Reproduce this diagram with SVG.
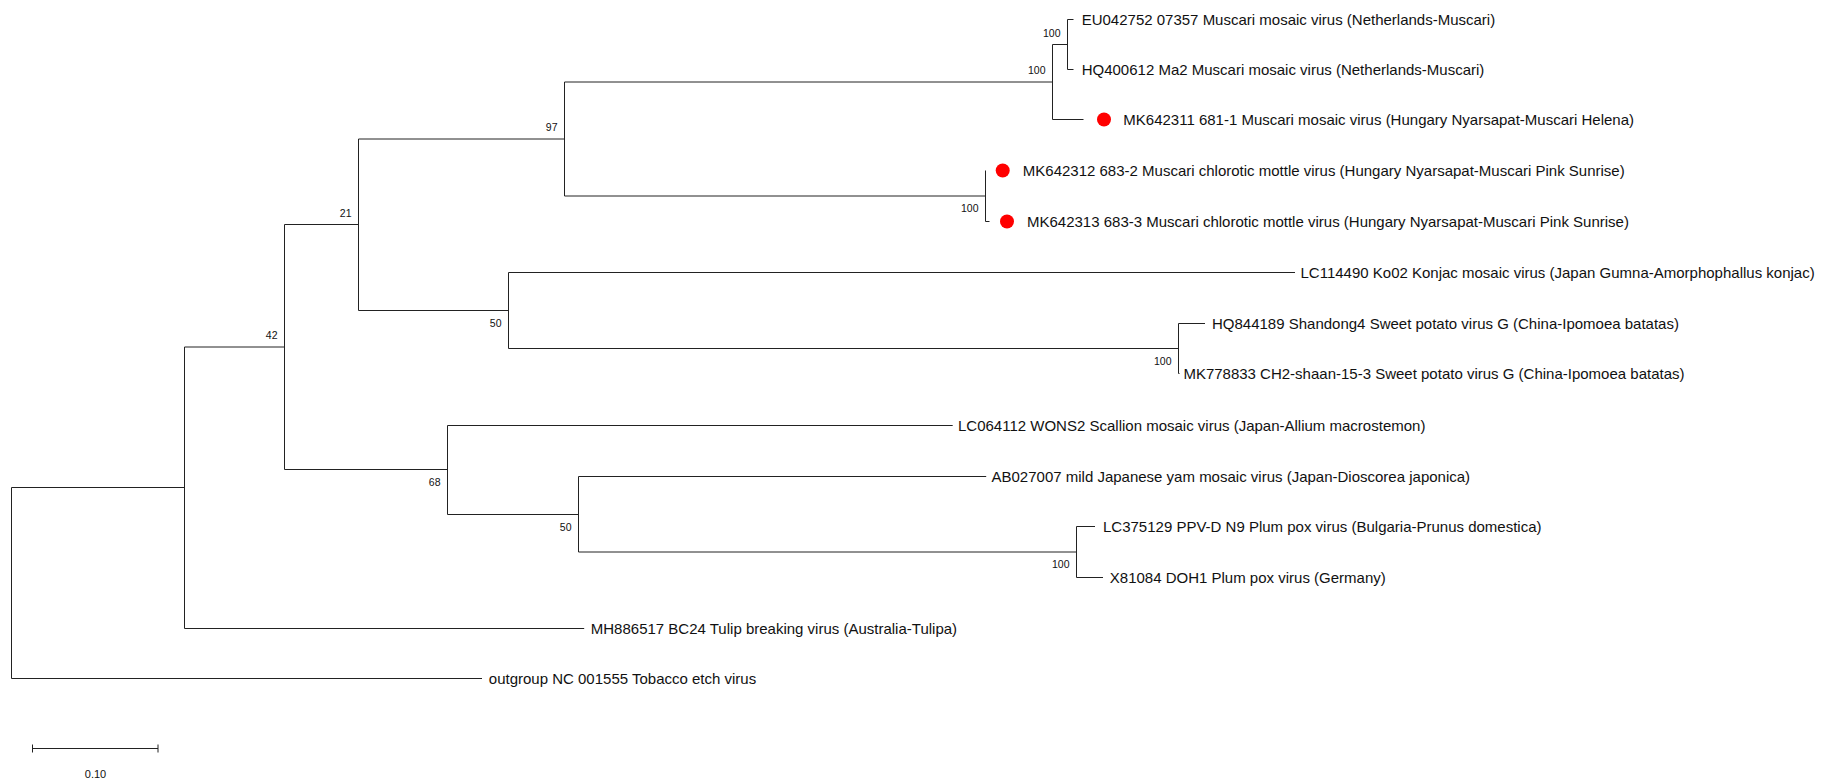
<svg xmlns="http://www.w3.org/2000/svg" width="1822" height="780" viewBox="0 0 1822 780">
<style>
.br{fill:none;stroke:#222;stroke-width:1}
.lf{font-family:"Liberation Sans",Arial,sans-serif;font-size:15px;fill:#111}
.bs{font-family:"Liberation Sans",Arial,sans-serif;font-size:10.5px;fill:#111;text-anchor:end}
.dot{fill:#ff0000}
</style>
<rect width="1822" height="780" fill="#ffffff"/>
<g id="connectors" class="br">
<!-- root -->
<path d="M11.5 487.5V678.5H482M11.5 487.5H184.5"/>
<!-- T node -->
<path d="M184.5 347V628.5H584.2M184.5 347H284.5"/>
<!-- 42 -->
<path d="M284.5 224.5V469.5H447.5M284.5 224.5H358.5"/>
<!-- 21 -->
<path d="M358.5 139V310.5H508.5M358.5 139H564.5"/>
<!-- 97 -->
<path d="M564.5 82V196H985.5M564.5 82H1052.5"/>
<!-- B -->
<path d="M1052.5 44.5V119.5H1083.5M1052.5 44.5H1067.5"/>
<!-- A -->
<path d="M1067.5 19.5V69.5H1073.5M1067.5 19.5H1073.5"/>
<!-- C pink -->
<path d="M985.5 170.5V221.5H989.5"/>
<!-- 50 upper -->
<path d="M508.5 272.5V348.5H1178.5M508.5 272.5H1295"/>
<!-- SP -->
<path d="M1178.5 323.5V373.5H1179.5M1178.5 323.5H1205"/>
<!-- 68 -->
<path d="M447.5 425.5V514.5H578.5M447.5 425.5H952.7"/>
<!-- 50 lower -->
<path d="M578.5 476.5V552H1076.5M578.5 476.5H986.2"/>
<!-- plum -->
<path d="M1076.5 526.5V577.5H1103M1076.5 526.5H1095"/>
</g>
<g id="bootstrap">
<text class="bs" x="1060.5" y="36.5">100</text>
<text class="bs" x="1045.5" y="74">100</text>
<text class="bs" x="557.5" y="131">97</text>
<text class="bs" x="351.5" y="216.5">21</text>
<text class="bs" x="277.5" y="339">42</text>
<text class="bs" x="978.5" y="212">100</text>
<text class="bs" x="501.5" y="326.5">50</text>
<text class="bs" x="1171.5" y="364.5">100</text>
<text class="bs" x="440.5" y="485.5">68</text>
<text class="bs" x="571.5" y="530.5">50</text>
<text class="bs" x="1069.5" y="568">100</text>
</g>
<g id="leaf-EU042752"><text class="lf" x="1081.7" y="24.5">EU042752 07357 Muscari mosaic virus (Netherlands-Muscari)</text></g>
<g id="leaf-HQ400612"><text class="lf" x="1081.7" y="74.5">HQ400612 Ma2 Muscari mosaic virus (Netherlands-Muscari)</text></g>
<g id="leaf-MK642311"><circle class="dot" cx="1104" cy="119.5" r="7"/><text class="lf" x="1123.3" y="124.5">MK642311 681-1 Muscari mosaic virus (Hungary Nyarsapat-Muscari Helena)</text></g>
<g id="leaf-MK642312"><circle class="dot" cx="1002.7" cy="170.5" r="7"/><text class="lf" x="1022.8" y="175.5">MK642312 683-2 Muscari chlorotic mottle virus (Hungary Nyarsapat-Muscari Pink Sunrise)</text></g>
<g id="leaf-MK642313"><circle class="dot" cx="1007" cy="221.5" r="7"/><text class="lf" x="1027" y="226.5">MK642313 683-3 Muscari chlorotic mottle virus (Hungary Nyarsapat-Muscari Pink Sunrise)</text></g>
<g id="leaf-LC114490"><text class="lf" x="1300.5" y="277.5">LC114490 Ko02 Konjac mosaic virus (Japan Gumna-Amorphophallus konjac)</text></g>
<g id="leaf-HQ844189"><text class="lf" x="1212" y="328.5">HQ844189 Shandong4 Sweet potato virus G (China-Ipomoea batatas)</text></g>
<g id="leaf-MK778833"><text class="lf" x="1183.4" y="378.5">MK778833 CH2-shaan-15-3 Sweet potato virus G (China-Ipomoea batatas)</text></g>
<g id="leaf-LC064112"><text class="lf" x="958" y="430.5">LC064112 WONS2 Scallion mosaic virus (Japan-Allium macrostemon)</text></g>
<g id="leaf-AB027007"><text class="lf" x="991.5" y="481.5">AB027007 mild Japanese yam mosaic virus (Japan-Dioscorea japonica)</text></g>
<g id="leaf-LC375129"><text class="lf" x="1103" y="531.5">LC375129 PPV-D N9 Plum pox virus (Bulgaria-Prunus domestica)</text></g>
<g id="leaf-X81084"><text class="lf" x="1109.8" y="582.5">X81084 DOH1 Plum pox virus (Germany)</text></g>
<g id="leaf-MH886517"><text class="lf" x="590.8" y="633.5">MH886517 BC24 Tulip breaking virus (Australia-Tulipa)</text></g>
<g id="leaf-outgroup"><text class="lf" x="488.8" y="683.5">outgroup NC 001555 Tobacco etch virus</text></g>
<g id="scale-bar">
<path class="br" d="M32.5 748.5H158M32.5 744.5V752.5M158 744.5V752.5"/>
<text x="95.5" y="777.5" text-anchor="middle" style="font-family:'Liberation Sans',Arial,sans-serif;font-size:11px;fill:#111">0.10</text>
</g>
</svg>
